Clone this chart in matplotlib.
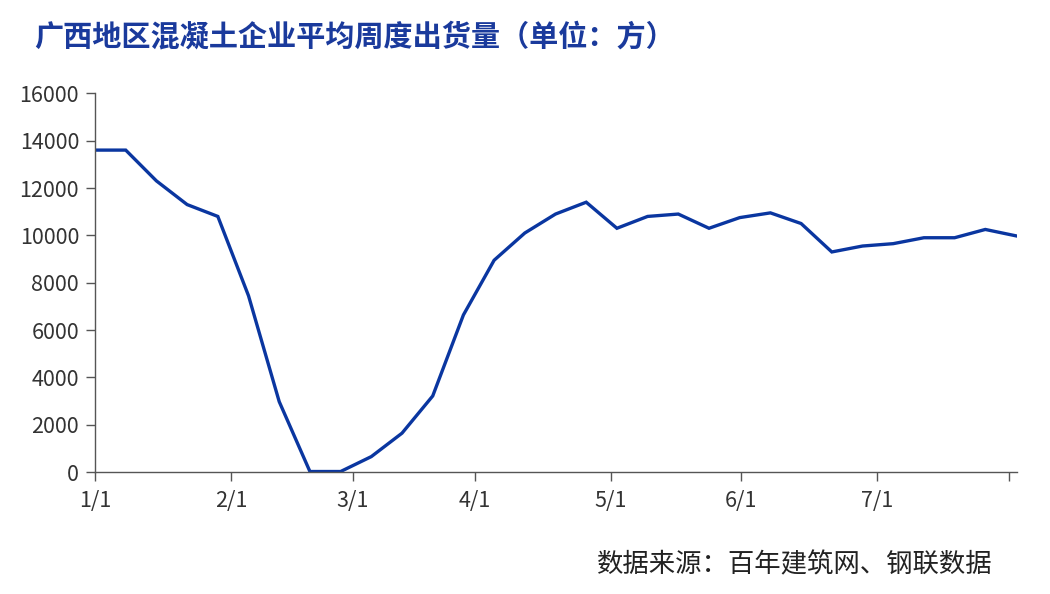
import numpy as np
import matplotlib
matplotlib.use('Agg')
import matplotlib.pyplot as plt

# --- 字体设置 ---
plt.rcParams['font.family'] = ['Noto Sans CJK SC', 'DejaVu Sans']
plt.rcParams['axes.unicode_minus'] = False

# --- 数据 (周度, 从图中读取) ---
weekly_volume = [13600, 13600, 12300, 11300, 10800, 7450, 2980, 30, 30, 660,
                 1650, 3220, 6640, 8950, 10100, 10900, 11400, 10300, 10800, 10900,
                 10300, 10750, 10950, 10500, 9300, 9550, 9650, 9900, 9900, 10250,
                 9980]
month_labels = ['1/1', '2/1', '3/1', '4/1', '5/1', '6/1', '7/1', '']
# 刻度位置 (以周序号计)
month_tick_pos = [0, 4.43, 8.39, 12.38, 16.8, 21.03, 25.46, 29.77]
y_ticks = [0, 2000, 4000, 6000, 8000, 10000, 12000, 14000, 16000]

title = '广西地区混凝土企业平均周度出货量（单位：方）'
source = '数据来源：百年建筑网、钢联数据'

# --- 绘图 ---
fig = plt.figure(figsize=(10.5, 5.94), dpi=100)
ax = fig.add_axes([0.0905, 0.205, 0.878, 0.638])

x = np.arange(len(weekly_volume))
ax.plot(x, weekly_volume, color='#0a36a0', linewidth=2.4, solid_joinstyle='miter')

ax.set_xlim(0, 30.03)
ax.set_ylim(0, 16000)
ax.set_yticks(y_ticks)
ax.set_yticklabels([str(v) for v in y_ticks])
ax.set_xticks(month_tick_pos)
ax.set_xticklabels(month_labels)

for side in ['top', 'right']:
    ax.spines[side].set_visible(False)
for side in ['left', 'bottom']:
    ax.spines[side].set_color('#555555')
    ax.spines[side].set_linewidth(1.0)

ax.tick_params(axis='both', direction='out', length=6.5, width=1.0,
               color='#555555', labelsize=15.5, labelcolor='#333333')
ax.tick_params(axis='x', pad=6)
ax.tick_params(axis='y', pad=5)
for lab in ax.get_xticklabels() + ax.get_yticklabels():
    lab.set_fontweight('light')

fig.text(0.033, 0.938, title, fontsize=21, fontweight='bold',
         color='#1a3a9c', ha='left', va='center')
fig.text(0.945, 0.049, source, fontsize=19, fontweight='light',
         color='#222222', ha='right', va='center')

fig.savefig('out.png', dpi=100, facecolor='white')
